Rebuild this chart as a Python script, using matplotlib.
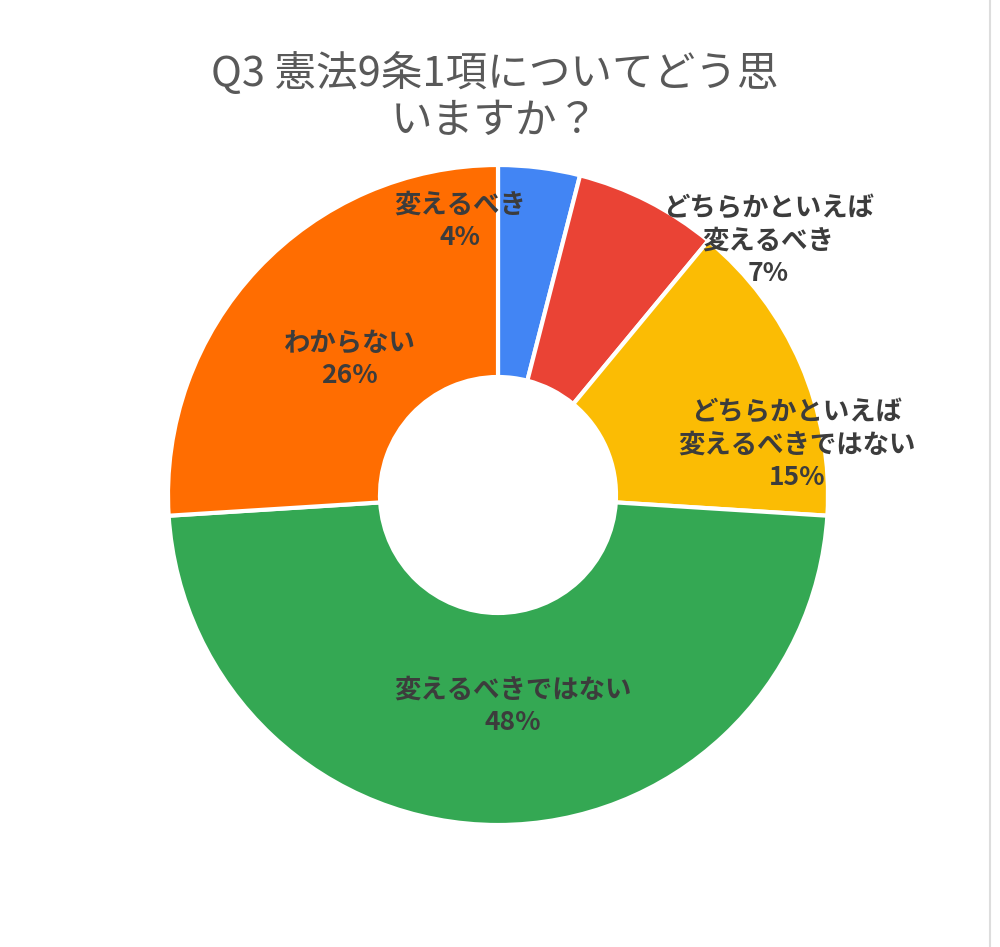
import matplotlib
matplotlib.use("Agg")
import matplotlib.pyplot as plt

plt.rcParams['font.family'] = ['Noto Sans CJK JP', 'DejaVu Sans']

labels = ["変えるべき", "どちらかといえば\n変えるべき", "どちらかといえば\n変えるべきではない", "変えるべきではない", "わからない"]
values = [4, 7, 15, 48, 26]
colors = ["#4285f4", "#ea4335", "#fbbc04", "#34a853", "#ff6d01"]
label_pos = [(-0.115, 0.83), (0.82, 0.77), (0.906, 0.15), (0.045, -0.64), (-0.45, 0.41)]

fig = plt.figure(figsize=(10, 9.47), dpi=100)
ax = fig.add_axes([(498 - 330) / 1000, (947 - 495 - 330) / 947, 0.66, 660 / 947])
ax.pie(values, colors=colors, startangle=90, counterclock=False,
       wedgeprops=dict(width=1 - 118 / 330, edgecolor="white", linewidth=3))
ax.set_xlim(-1, 1); ax.set_ylim(-1, 1); ax.set_aspect('equal')
for lab, v, (x, y) in zip(labels, values, label_pos):
    ax.text(x, y, f"{lab}\n{v}%", ha="center", va="center", fontsize=19,
            fontweight="bold", color="#3c3c3c", linespacing=1.25, clip_on=False)

fig.text(0.495, 1 - 97 / 947, "Q3 憲法9条1項についてどう思\nいますか？", ha="center", va="center",
         fontsize=30, color="#595959", linespacing=1.2)
fig.add_artist(plt.Line2D([0.99, 0.99], [0, 1], color="#dddddd", lw=1.5))
fig.savefig("out.png", dpi=100, facecolor="white")
